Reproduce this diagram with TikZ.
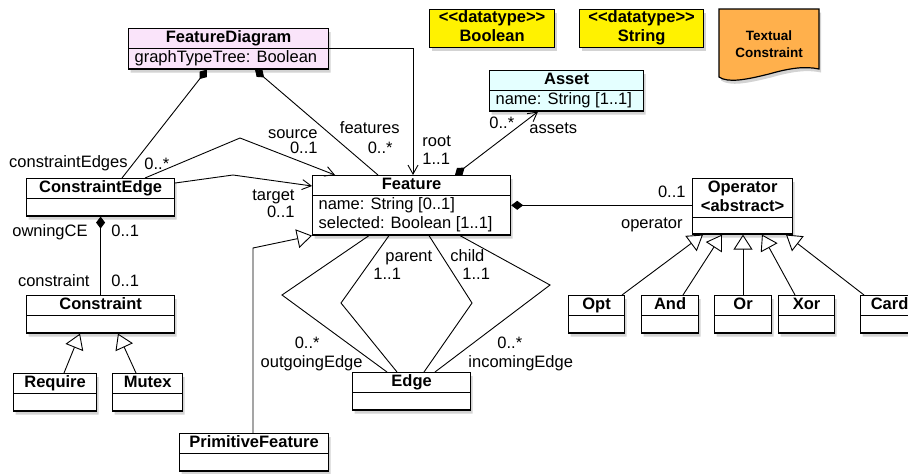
\documentclass[tikz,border=0pt]{standalone}
\usepackage{fontspec}
\setmainfont{Liberation Sans}
\usetikzlibrary{arrows.meta,shapes.multipart,shadows}
\definecolor{diagpink}{RGB}{250,228,250}
\definecolor{assetcyan}{RGB}{228,255,255}
\definecolor{noteorange}{RGB}{255,176,76}

\begin{document}
\begin{tikzpicture}[x=1pt,y=-1pt,line width=0.9pt]
\tikzstyle{every node}=[font=\fontsize{16.5}{19}\selectfont]
\tikzstyle{shade}=[drop shadow={shadow xshift=2pt,shadow yshift=-3.5pt,opacity=0.35}]
\tikzstyle{cls}=[draw, line width=1.2pt, fill=white, anchor=north west, shade,
  rectangle split, rectangle split parts=2, rectangle split part align={center,left},
  rectangle split empty part height=16pt, rectangle split empty part depth=0pt,
  inner xsep=6pt, inner ysep=0pt]
\tikzstyle{dtype}=[draw, line width=1.2pt, fill=yellow, anchor=north west, shade,
  align=center, inner ysep=0pt, font=\fontsize{16.5}{19}\selectfont\bfseries]
\tikzstyle{lbl}=[inner sep=0pt]
\tikzstyle{nav}=[-{Straight Barb[length=9pt,width=10pt]}]
\tikzstyle{gen}=[-{Triangle[length=15pt,width=19pt,fill=white]}]
\tikzstyle{comp}=[{Diamond[length=12pt,width=9pt]}-]

\clip (0,0) rectangle (908,474);

% classes
\node[cls, fill=diagpink, minimum width=200] (FD) at (128,28) {\textbf{FeatureDiagram}\strut \nodepart{two} graphTypeTree: Boolean\strut};
\node[cls, minimum width=148] (CE) at (26,178) {\textbf{ConstraintEdge}\strut};
\node[cls, align=left, minimum width=198] (F) at (312,175) {\textbf{Feature}\strut \nodepart{two} name: String [0..1]\strut\\selected: Boolean [1..1]\strut};
\node[cls, fill=assetcyan, minimum width=154] (A) at (489,70) {\textbf{Asset}\strut \nodepart{two} name: String [1..1]\strut};
\node[cls, align=center, minimum width=100] (Op) at (692,178) {\textbf{Operator}\strut\\\textbf{<abstract>}\strut \nodepart{two}\rule{0pt}{15pt}};
\node[cls, minimum width=148] (Con) at (26,295) {\textbf{Constraint}\strut};
\node[cls, minimum width=83] (Req) at (13,373) {\textbf{Require}\strut};
\node[cls, minimum width=70] (Mut) at (112,373) {\textbf{Mutex}\strut};
\node[cls, minimum width=118] (E) at (352,372) {\textbf{Edge}\strut};
\node[cls, minimum width=149] (PF) at (179,433) {\textbf{PrimitiveFeature}\strut};
\foreach \n/\x/\w in {Opt/568/56, And/641/57, Or/714/57, Xor/778/56, Card/860/58}
  \node[cls, minimum width=\w] (\n) at (\x,295) {\textbf{\n}\strut};

% datatypes and note
\node[dtype, minimum width=125] (bool) at (429,9) {<{}<datatype>{}>\strut\\Boolean\strut};
\node[dtype, minimum width=124] (str) at (579,9) {<{}<datatype>{}>\strut\\String\strut};
\draw[fill=noteorange, line width=1.2pt, shade] (719,9) -- (819,9) -- (819,69)
  .. controls (805,66) and (790,68) .. (769,74)
  .. controls (745,80) and (728,83) .. (719,77) -- cycle;
\node[font=\fontsize{13.5}{17}\selectfont\bfseries, align=center] (note) at (769,44) {Textual\\Constraint};

% associations
\draw[comp] (207,0 |- FD.south) -- (122,0 |- CE.north);
\draw[comp] (255,0 |- FD.south) -- (378,0 |- F.north);
\draw[nav] (FD.east) -| (413,0 |- F.north);
\draw[nav] (145,0 |- CE.north) -- (240,138) -- (335,0 |- F.north);
\draw[nav] (CE.east |- 0,183) -- (233,175) -- (F.west |- 0,186);
\draw[comp] (CE.south) -- (Con.north);
\draw[{Diamond[length=12pt,width=9pt]}-{Straight Barb[length=9pt,width=10pt]}] (455,0 |- F.north) -- (538,0 |- A.south);
\draw[comp] (F.east) -- (Op.west |- F.east);
\draw (369,0 |- F.south) -- (282,295) -- (387,0 |- E.north);
\draw (389,0 |- F.south) -- (341,303) -- (397,0 |- E.north);
\draw (429,0 |- F.south) -- (472,303) -- (424,0 |- E.north);
\draw (460,0 |- F.south) -- (550,285) -- (435,0 |- E.north);

% generalizations
\draw[gen] (64,0 |- Req.north) -- (80,0 |- Con.south);
\draw[gen] (136,0 |- Mut.north) -- (118,0 |- Con.south);
\draw[gen] (253,0 |- PF.north) -- (253,248) -- (F.south west);
\foreach \n/\a/\b in {Opt/622/703, And/683/722, Or/743/743, Xor/795/762, Card/864/786}
  \draw[gen] (\a,0 |- \n.north) -- (\b,0 |- Op.south);

% role names and multiplicities
\node[lbl, anchor=base east] (lce) at (128,167) {constraintEdges};
\node[lbl, anchor=base west] (mce) at (144,169) {0..*};
\node[lbl, anchor=base east] (lsrc) at (318,138) {source};
\node[lbl, anchor=base east] (msrc) at (318,153) {0..1};
\node[lbl, anchor=base east] (lfeat) at (400,133) {features};
\node[lbl, anchor=base east] (mfeat) at (393,153) {0..*};
\node[lbl, anchor=base west] (lroot) at (422,146) {root};
\node[lbl, anchor=base west] (mroot) at (422,164) {1..1};
\node[lbl, anchor=base east] (ltgt) at (295,200) {target};
\node[lbl, anchor=base east] (mtgt) at (295,217) {0..1};
\node[lbl, anchor=base east] (lown) at (88,236) {owningCE};
\node[lbl, anchor=base west] (mown) at (111,236) {0..1};
\node[lbl, anchor=base east] (lcon) at (90,286) {constraint};
\node[lbl, anchor=base west] (mcon) at (111,286) {0..1};
\node[lbl, anchor=base east] (mout) at (320,348) {0..*};
\node[lbl, anchor=base east] (lout) at (363,367) {outgoingEdge};
\node[lbl, anchor=base west] (lpar) at (385,261) {parent};
\node[lbl, anchor=base west] (mpar) at (373,279) {1..1};
\node[lbl, anchor=base west] (lchi) at (450,261) {child};
\node[lbl, anchor=base west] (mchi) at (462,279) {1..1};
\node[lbl, anchor=base west] (min) at (497,348) {0..*};
\node[lbl, anchor=base west] (lin) at (468,367) {incomingEdge};
\node[lbl, anchor=base west] (mast) at (489,128) {0..*};
\node[lbl, anchor=base west] (last) at (529,133) {assets};
\node[lbl, anchor=base east] (mop) at (686,197) {0..1};
\node[lbl, anchor=base east] (lop) at (683,228) {operator};
\end{tikzpicture}
\end{document}
